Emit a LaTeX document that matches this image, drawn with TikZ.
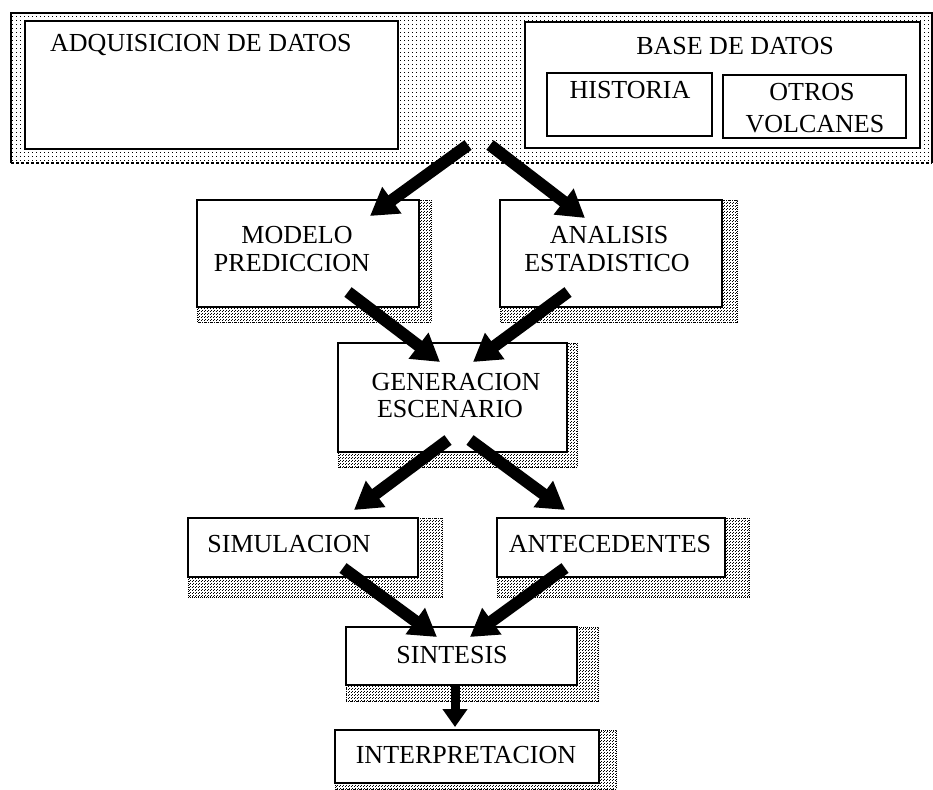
\documentclass[tikz,border=0pt]{standalone}
\usepackage{fontspec}
\setmainfont{Liberation Serif}
\usetikzlibrary{arrows.meta,patterns,fit,backgrounds}
\pgfdeclarepatternformonly{banddots}{\pgfqpoint{0pt}{0pt}}{\pgfqpoint{4pt}{4pt}}{\pgfqpoint{4pt}{4pt}}{%
  \pgfpathrectangle{\pgfqpoint{0pt}{0pt}}{\pgfqpoint{1.1pt}{1.1pt}}%
  \pgfusepath{fill}}
\pgfdeclarepatternformonly{shadowdots}{\pgfqpoint{0pt}{0pt}}{\pgfqpoint{3pt}{3pt}}{\pgfqpoint{3pt}{3pt}}{%
  \pgfpathrectangle{\pgfqpoint{0pt}{0pt}}{\pgfqpoint{1pt}{1pt}}%
  \pgfpathrectangle{\pgfqpoint{1.5pt}{1.5pt}}{\pgfqpoint{1pt}{1pt}}%
  \pgfusepath{fill}}
\begin{document}
\begin{tikzpicture}[x=1pt,y=-1pt,
  box/.style={draw=black, line width=1.6pt, fill=white, inner sep=0pt, outer sep=0pt},
  inbox/.style={draw=black, line width=1.3pt, fill=white, inner sep=0pt, outer sep=0pt},
  lbl/.style={font=\fontsize{26}{28}\selectfont, inner sep=0pt, anchor=base},
  shadowfill/.style={pattern=shadowdots, pattern color=black},
  bigarrow/.style={line width=12pt, -{Triangle[width=31pt,length=27pt]}},
  smallarrow/.style={line width=9pt, -{Triangle[width=24pt,length=18pt]}}
]
\useasboundingbox (0,0) rectangle (933,789);

% top band
\node[inner sep=0pt, outer sep=0pt, pattern=banddots, pattern color=black, fit={(11,13) (932,163)}] (band) {};
\draw[line width=1.2pt] (band.south west) -- (band.north west) -- (band.north east) -- (band.south east);
\draw[line width=1.2pt, densely dashed] (band.south west) -- (band.south east);

\node[box, fit={(25,21) (398,149)}] (adq) {};
\node[lbl, anchor=base west] (tadq) at (50,52) {ADQUISICION DE DATOS};

\node[box, fit={(525,22) (920,148)}] (base) {};
\node[lbl] (tbase) at (735,55) {BASE DE DATOS};
\node[inbox, fit={(547,73) (712,136)}] (hist) {};
\node[lbl] (thist) at (630,99) {HISTORIA};
\node[inbox, fit={(723,75) (906,138)}] (otros) {};
\node[lbl] (totros1) at (812,100) {OTROS};
\node[lbl] (totros2) at (815,132) {VOLCANES};

% boxes
\node[box, fit={(197,200) (419,307)}] (modelo) {};
\node[lbl] (tmodelo1) at (297,243) {MODELO};
\node[lbl] (tmodelo2) at (292,271) {PREDICCION};

\node[box, fit={(500,200) (722,307)}] (analisis) {};
\node[lbl] (tanal1) at (609,243) {ANALISIS};
\node[lbl] (tanal2) at (607,271) {ESTADISTICO};

\node[box, fit={(338,343) (567,452)}] (gen) {};
\node[lbl] (tgen1) at (456,390) {GENERACION};
\node[lbl] (tgen2) at (450,417) {ESCENARIO};

\node[box, fit={(188,518) (418,577)}] (sim) {};
\node[lbl] (tsim) at (289,552) {SIMULACION};

\node[box, fit={(497,518) (725,577)}] (ant) {};
\node[lbl] (tant) at (610,552) {ANTECEDENTES};

\node[box, fit={(346,627) (577,685)}] (sint) {};
\node[lbl] (tsint) at (452,663) {SINTESIS};

\node[box, fit={(335,730) (599,783)}] (interp) {};
\node[lbl] (tinterp) at (466,763) {INTERPRETACION};

% shadows
\begin{pgfonlayer}{background}
\foreach \n/\dx/\dy in {modelo/12/15, analisis/15/15, gen/10/15, sim/24/20, ant/24/20, sint/21/16, interp/17/6} {
  \fill[shadowfill] (\n.north west) rectangle ([shift={(\dx,\dy)}]\n.south east);
  \draw[line width=1pt, densely dotted] (\n.north east) -| ([shift={(\dx,\dy)}]\n.south east) -| (\n.south west);
}
\end{pgfonlayer}

% arrow end points
\coordinate (s1) at (468,145); \coordinate (e1) at (370,216);
\coordinate (s2) at (490,145); \coordinate (e2) at (585,218);
\coordinate (s3) at (348,292); \coordinate (e3) at (440,362);
\coordinate (s4) at (568,292); \coordinate (e4) at (473,362);
\coordinate (s5) at (448,440); \coordinate (e5) at (354,510);
\coordinate (s6) at (470,440); \coordinate (e6) at (565,510);
\coordinate (s7) at (343,568); \coordinate (e7) at (437,637);
\coordinate (s8) at (565,568); \coordinate (e8) at (470,637);
\coordinate (s9) at (455,684); \coordinate (e9) at (455,727);

\draw[bigarrow] (s1) -- (e1);
\draw[bigarrow] (s2) -- (e2);
\draw[bigarrow] (s3) -- (e3);
\draw[bigarrow] (s4) -- (e4);
\draw[bigarrow] (s5) -- (e5);
\draw[bigarrow] (s6) -- (e6);
\draw[bigarrow] (s7) -- (e7);
\draw[bigarrow] (s8) -- (e8);
\draw[smallarrow] (s9) -- (e9);
\end{tikzpicture}
\end{document}
